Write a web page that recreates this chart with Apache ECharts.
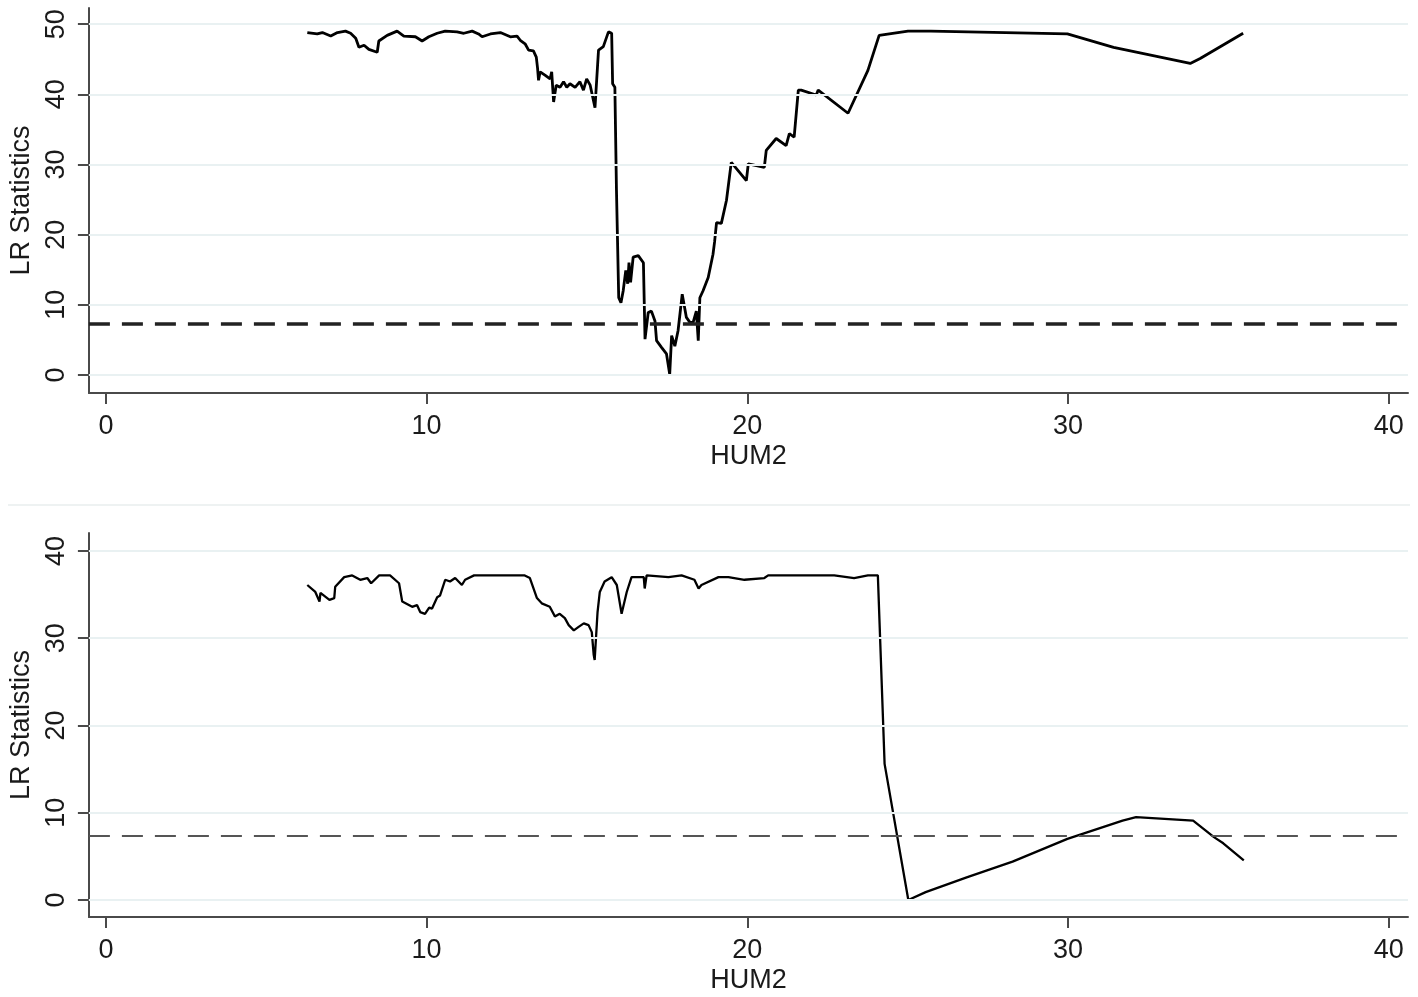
<!DOCTYPE html>
<html>
<head>
<meta charset="utf-8">
<script src="https://cdn.jsdelivr.net/npm/echarts@6/dist/echarts.min.js"></script>
<style>
html,body{margin:0;padding:0;background:#fff;}
#chart{width:1418px;height:997px;}
</style>
</head>
<body>
<div id="chart"></div>
<script>
// ---- data ----
const xTicks = [0, 10, 20, 30, 40];
const topYTicks = [0, 10, 20, 30, 40, 50];
const bottomYTicks = [0, 10, 20, 30, 40];
const critical = 7.35;

const topX = [6.28,6.59,6.75,7.01,7.22,7.47,7.63,7.79,7.89,8.05,8.20,8.46,8.51,8.77,9.08,9.29,9.65,9.86,10.07,10.33,10.58,10.95,11.16,11.42,11.62,11.73,11.99,12.30,12.61,12.82,12.92,13.07,13.18,13.33,13.42,13.46,13.49,13.54,13.70,13.85,13.90,13.96,14.04,14.16,14.27,14.37,14.47,14.63,14.78,14.89,14.99,15.10,15.25,15.36,15.51,15.67,15.77,15.80,15.87,15.92,15.99,16.06,16.13,16.21,16.27,16.31,16.36,16.44,16.60,16.76,16.81,16.91,17.01,17.12,17.17,17.33,17.48,17.58,17.64,17.74,17.84,17.97,18.10,18.21,18.31,18.41,18.47,18.52,18.62,18.78,18.93,18.98,19.04,19.19,19.35,19.50,19.97,20.03,20.53,20.59,20.90,21.21,21.31,21.46,21.59,21.68,22.15,22.21,23.14,23.76,24.11,25.01,25.72,29.98,31.42,33.81,34.12,35.46];
const topY = [48.8,48.6,48.8,48.3,48.8,49.0,48.7,48.0,46.7,47.0,46.4,46.0,47.6,48.4,49.0,48.3,48.2,47.6,48.2,48.7,49.0,48.9,48.7,49.0,48.6,48.2,48.6,48.8,48.2,48.3,47.7,47.2,46.3,46.2,45.3,43.7,42.0,43.2,42.7,42.2,43.2,38.9,41.3,41.0,41.8,41.0,41.5,41.0,41.8,40.6,42.2,41.3,38.1,46.3,46.8,48.9,48.7,41.5,41.0,26.3,11.0,10.3,12.0,14.9,13.0,16.0,13.2,16.8,17.0,16.0,5.1,8.9,9.1,7.7,4.9,3.9,3.0,0.1,5.6,4.1,6.3,11.5,8.2,7.5,7.5,9.1,4.9,11.0,12.0,13.9,17.2,19.0,21.7,21.6,24.9,30.3,27.7,30.1,29.6,32.0,33.7,32.7,34.4,33.9,40.6,40.6,39.9,40.6,37.3,43.4,48.4,49.0,49.0,48.6,46.7,44.4,45.1,48.7];

const bottomX = [6.28,6.53,6.66,6.69,6.97,7.12,7.15,7.43,7.68,7.93,8.15,8.27,8.52,8.86,9.14,9.24,9.55,9.70,9.80,9.95,10.08,10.17,10.33,10.42,10.58,10.73,10.89,11.10,11.20,11.48,13.06,13.22,13.44,13.59,13.84,14.00,14.15,14.31,14.43,14.59,14.74,14.90,15.05,15.15,15.21,15.24,15.33,15.40,15.55,15.77,15.93,16.08,16.24,16.39,16.77,16.80,16.86,17.54,17.95,18.35,18.48,18.57,19.10,19.41,19.91,20.53,20.65,21.68,22.71,23.33,23.76,24.07,24.28,25.02,25.56,26.84,28.27,29.98,31.70,32.12,33.90,34.55,34.84,35.48];
const bottomY = [36.1,35.3,34.2,35.2,34.4,34.6,35.9,37.0,37.2,36.7,36.9,36.3,37.2,37.2,36.3,34.2,33.6,33.8,33.0,32.8,33.5,33.4,34.7,34.9,36.7,36.5,36.9,36.1,36.7,37.2,37.2,36.9,34.6,34.0,33.6,32.5,32.8,32.3,31.5,30.9,31.3,31.7,31.5,30.7,28.1,27.5,33.0,35.3,36.5,37.0,36.1,32.8,35.3,37.0,37.0,35.7,37.2,37.0,37.2,36.7,35.7,36.1,37.0,37.0,36.7,36.9,37.2,37.2,37.2,36.9,37.2,37.2,15.6,0.0,0.9,2.6,4.4,7.0,9.1,9.5,9.1,7.2,6.5,4.55];

// ---- chart ----
const FONT = 'Liberation Sans, Arial, sans-serif';
const TXT = '#1a1a1a';
const AXC = '#4a4a4a';
const GRIDC = '#e9f1f2';

function pairs(xs, ys) { return xs.map((x, i) => [x, ys[i]]); }

function xAxisDef(idx) {
  return {
    type: 'value', gridIndex: idx, min: -0.53, max: 40.6,
    name: 'HUM2', nameLocation: 'middle', nameGap: 50,
    nameTextStyle: { fontFamily: FONT, fontSize: 27, color: TXT },
    axisLine: { show: true, onZero: false, lineStyle: { color: AXC, width: 2 } },
    axisTick: { show: true, length: 11, lineStyle: { color: AXC, width: 2 }, customValues: xTicks },
    axisLabel: { fontFamily: FONT, fontSize: 27, color: TXT, margin: 20, customValues: xTicks },
    splitLine: { show: false }
  };
}
function yAxisDef(idx, min, max, ticks) {
  return {
    type: 'value', gridIndex: idx, min: min, max: max,
    name: 'LR Statistics', nameLocation: 'middle', nameRotate: 90, nameGap: 52,
    nameTextStyle: { fontFamily: FONT, fontSize: 27, color: TXT },
    axisLine: { show: true, onZero: false, lineStyle: { color: AXC, width: 2 } },
    axisTick: { show: true, length: 11, lineStyle: { color: AXC, width: 2 }, customValues: ticks },
    axisLabel: { fontFamily: FONT, fontSize: 27, color: TXT, rotate: 90, margin: 19, customValues: ticks },
    splitLine: { show: false }
  };
}
function gridLines(idx, ticks) {
  return {
    type: 'line', xAxisIndex: idx, yAxisIndex: idx, data: [], z: 1, silent: true,
    markLine: {
      silent: true, symbol: 'none', animation: false, label: { show: false },
      lineStyle: { color: GRIDC, width: 2, type: 'solid' },
      data: ticks.map(v => ({ yAxis: v }))
    }
  };
}
function critLine(idx, width, color) {
  return {
    type: 'line', xAxisIndex: idx, yAxisIndex: idx, data: [], z: 2, silent: true,
    markLine: {
      silent: true, symbol: 'none', animation: false, label: { show: false },
      lineStyle: { color: color, width: width, type: [21, 12] },
      data: [{ yAxis: critical }]
    }
  };
}

const chart = echarts.init(document.getElementById('chart'), null, { renderer: 'canvas' });
chart.setOption({
  animation: false,
  backgroundColor: '#fff',
  grid: [
    { left: 86, top: 8, width: 1322, height: 385 },
    { left: 86, top: 533, width: 1322, height: 384 }
  ],
  xAxis: [xAxisDef(0), xAxisDef(1)],
  yAxis: [yAxisDef(0, -2.57, 52.3, topYTicks), yAxisDef(1, -1.95, 42.06, bottomYTicks)],
  graphic: [{
    type: 'line', silent: true,
    shape: { x1: 8, y1: 505, x2: 1410, y2: 505 },
    style: { stroke: '#eef2f2', lineWidth: 2 }
  }],
  series: [
    gridLines(0, topYTicks),
    gridLines(1, bottomYTicks),
    critLine(0, 3.5, '#222'),
    critLine(1, 2, '#555'),
    {
      type: 'line', xAxisIndex: 0, yAxisIndex: 0, z: 3,
      data: pairs(topX, topY), showSymbol: false, symbol: 'none',
      lineStyle: { color: '#000', width: 2.8 }
    },
    {
      type: 'line', xAxisIndex: 1, yAxisIndex: 1, z: 3,
      data: pairs(bottomX, bottomY), showSymbol: false, symbol: 'none',
      lineStyle: { color: '#000', width: 2.3 }
    }
  ]
});
</script>
</body>
</html>
